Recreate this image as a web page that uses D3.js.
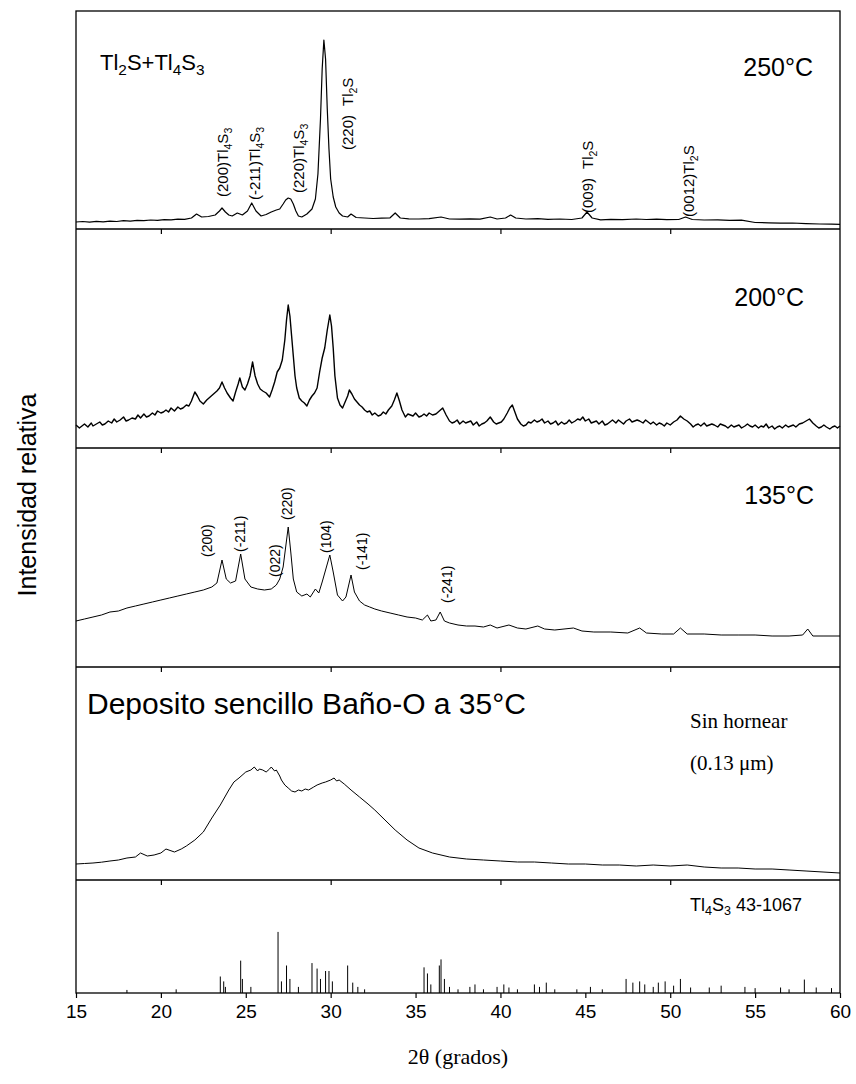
<!DOCTYPE html>
<html>
<head>
<meta charset="utf-8">
<script src="https://cdn.jsdelivr.net/npm/d3@7"></script>
<style>
body { margin: 0; background: #fff; }
text { font-family: "Liberation Sans", Arial, sans-serif; fill: #000; }
.serif { font-family: "Liberation Serif", "Times New Roman", serif; }
.axis path { display: none; }
.axis line { stroke: #000; stroke-width: 1.2; }
</style>
</head>
<body>
<div id="chart"></div>
<script>
// ---- data: [2theta, intensity (a.u.)] ----
var xrd250 = [[15.0,7],[15.4,7.5],[15.8,6.8],[16.2,7.6],[16.6,7.2],[17.0,7.9],[17.4,7.5],[17.8,8.3],[18.2,7.9],[18.6,8.6],[19.0,8.3],[19.4,9.0],[19.8,8.7],[20.2,9.4],[20.6,9.1],[21.0,9.8],[21.4,9.6],[21.8,11],[22.1,15],[22.4,12],[22.8,12.5],[23.2,14],[23.45,18],[23.6,21],[23.8,17],[24.0,14],[24.2,13],[24.5,16],[24.8,14],[25.1,18],[25.35,26],[25.6,18],[25.9,13],[26.2,14.5],[26.5,17],[26.8,19],[27.0,20],[27.2,25],[27.35,29],[27.5,31],[27.65,30],[27.8,25],[27.95,18],[28.1,13],[28.3,12],[28.6,15],[28.9,20],[29.1,30],[29.25,55],[29.4,110],[29.5,160],[29.6,189],[29.7,170],[29.8,120],[29.9,80],[30.0,50],[30.15,32],[30.3,22],[30.5,16],[30.7,13],[31.0,12],[31.2,15],[31.5,11.5],[32.0,11],[32.5,10.5],[33.0,10.8],[33.5,11.2],[33.8,16],[34.1,11],[34.6,10.2],[35.2,10],[35.8,10.4],[36.5,12],[37.0,10],[37.6,9.8],[38.2,10.2],[38.8,9.9],[39.4,12],[39.8,10],[40.3,11],[40.6,14],[40.9,11],[41.5,10],[42.2,10.3],[42.8,9.6],[43.5,10],[44.2,9.5],[44.8,11],[45.1,17],[45.4,11],[45.9,9.2],[46.5,9.6],[47.2,9.3],[48.0,10],[48.6,9.5],[49.2,9.9],[49.8,9.4],[50.5,9.5],[50.9,12],[51.3,9.5],[52.0,9],[52.8,9.2],[53.5,8.6],[54.2,8.8],[55.0,6.5],[55.8,6.2],[56.5,5.8],[57.2,6],[58.0,5.4],[58.8,5],[59.5,4.8],[60.0,4.6]];

var xrd200 = [[15.0,23],[15.2,20],[15.35,22],[15.5,24],[15.7,21],[15.9,25],[16.0,22],[16.2,24],[16.4,26],[16.55,23],[16.7,24],[16.9,27],[17.1,25],[17.25,29],[17.4,26],[17.6,28],[17.8,31],[17.95,27],[18.1,28],[18.3,30],[18.5,29],[18.65,33],[18.8,30],[19.0,34],[19.15,31],[19.3,32],[19.5,35],[19.65,33],[19.8,37],[20.0,35],[20.15,36],[20.3,38],[20.45,36],[20.6,40],[20.8,37],[21.0,41],[21.15,39],[21.3,40],[21.5,43],[21.65,42],[21.8,47],[22.0,56],[22.15,52],[22.3,47],[22.5,44],[22.7,48],[22.9,51],[23.1,54],[23.3,57],[23.45,60],[23.6,66],[23.75,60],[23.9,55],[24.1,50],[24.25,47],[24.4,56],[24.55,64],[24.65,70],[24.8,61],[24.95,58],[25.1,64],[25.25,72],[25.4,86],[25.55,72],[25.7,64],[25.85,59],[26.0,57],[26.2,55],[26.4,51],[26.55,58],[26.7,66],[26.85,76],[27.0,80],[27.15,88],[27.3,108],[27.4,128],[27.5,143],[27.6,132],[27.7,112],[27.8,92],[27.9,72],[28.0,60],[28.15,50],[28.3,47],[28.45,45],[28.6,42],[28.75,48],[28.9,52],[29.05,55],[29.2,60],[29.35,76],[29.5,90],[29.65,100],[29.8,118],[29.95,133],[30.05,122],[30.15,100],[30.25,72],[30.4,50],[30.55,43],[30.7,40],[30.85,46],[31.0,52],[31.1,58],[31.25,54],[31.4,49],[31.55,46],[31.7,43],[31.85,41],[32.0,38],[32.15,36],[32.3,37],[32.45,33],[32.6,35],[32.8,32],[32.95,33],[33.1,36],[33.25,34],[33.4,38],[33.6,42],[33.75,48],[33.9,55],[34.05,47],[34.2,38],[34.4,31],[34.55,34],[34.7,33],[34.85,32],[35.0,35],[35.2,31],[35.35,32],[35.5,34],[35.65,32],[35.8,35],[36.0,33],[36.2,34],[36.4,37],[36.6,40],[36.8,33],[37.0,27],[37.15,25],[37.3,26],[37.45,28],[37.6,24],[37.8,27],[37.95,25],[38.1,26],[38.25,27],[38.4,23],[38.6,26],[38.75,22],[38.9,24],[39.05,25],[39.2,27],[39.4,31],[39.6,26],[39.75,24],[39.9,25],[40.05,26],[40.2,29],[40.4,35],[40.55,40],[40.7,43],[40.85,36],[41.0,29],[41.2,24],[41.35,22],[41.5,23],[41.65,26],[41.8,25],[42.0,28],[42.15,26],[42.3,27],[42.45,29],[42.6,25],[42.8,27],[42.95,24],[43.1,25],[43.25,27],[43.4,23],[43.6,26],[43.75,24],[43.9,25],[44.05,28],[44.2,25],[44.4,27],[44.55,29],[44.7,28],[44.85,31],[45.0,27],[45.2,29],[45.35,25],[45.5,26],[45.65,27],[45.8,24],[46.0,27],[46.15,23],[46.3,24],[46.45,26],[46.6,28],[46.8,25],[46.95,28],[47.1,26],[47.25,24],[47.4,27],[47.6,29],[47.75,26],[47.9,27],[48.05,28],[48.2,27],[48.4,25],[48.55,28],[48.7,26],[48.85,24],[49.0,26],[49.2,23],[49.35,25],[49.5,24],[49.65,22],[49.8,25],[50.0,23],[50.2,26],[50.4,28],[50.6,32],[50.8,29],[51.0,27],[51.2,24],[51.35,21],[51.5,23],[51.65,24],[51.8,22],[52.0,25],[52.15,22],[52.3,23],[52.45,24],[52.6,23],[52.8,21],[52.95,24],[53.1,23],[53.25,22],[53.4,20],[53.6,23],[53.75,21],[53.9,22],[54.05,23],[54.2,20],[54.4,22],[54.55,24],[54.7,22],[54.85,21],[55.0,23],[55.2,20],[55.35,22],[55.5,21],[55.65,24],[55.8,20],[56.0,22],[56.15,19],[56.3,21],[56.45,22],[56.6,20],[56.8,23],[56.95,21],[57.1,22],[57.25,23],[57.4,21],[57.6,24],[57.8,25],[58.0,27],[58.2,29],[58.4,25],[58.6,22],[58.75,20],[58.9,21],[59.05,23],[59.2,21],[59.4,19],[59.55,21],[59.7,22],[59.85,20],[60.0,22]];

var xrd135 = [[15.0,46],[15.5,48],[16.0,50],[16.5,52],[17.0,55],[17.5,56],[18.0,59],[18.5,61],[19.0,63],[19.5,65],[20.0,67],[20.5,69],[21.0,71],[21.5,73],[22.0,75],[22.5,77],[23.0,80],[23.3,84],[23.6,107],[23.85,88],[24.1,84],[24.4,86],[24.7,113],[24.95,88],[25.3,80],[25.7,78],[26.1,77],[26.5,78],[26.8,82],[27.0,88],[27.2,100],[27.35,120],[27.5,140],[27.65,115],[27.8,88],[28.0,75],[28.3,71],[28.6,73],[28.8,70],[29.1,78],[29.3,74],[29.5,85],[29.75,100],[29.95,112],[30.15,95],[30.4,72],[30.7,66],[30.9,70],[31.2,92],[31.4,75],[31.7,66],[32.0,62],[32.3,60],[32.6,58],[33.0,56],[33.5,54],[34.0,52],[34.5,50],[35.0,49],[35.4,47],[35.7,52],[35.9,46],[36.2,47],[36.45,55],[36.7,46],[37.0,44],[37.5,42],[38.0,41],[38.5,41],[39.0,40],[39.4,42],[39.8,39],[40.5,42],[41.0,39],[41.5,38],[42.2,41],[42.6,38],[43.2,37],[44.3,39],[44.8,36],[45.5,35],[46.5,35],[47.5,34],[48.2,39],[48.6,34],[49.5,33],[50.2,33],[50.6,39],[51.0,33],[52.0,33],[53.0,32],[54.0,32],[55.0,32],[56.0,31],[57.0,31],[57.8,32],[58.1,38],[58.4,31],[59.0,31],[60.0,31]];

var xrdDep = [[15.0,16],[15.5,16.5],[16.0,17],[16.5,17.8],[17.0,19],[17.5,20],[18.0,22],[18.5,23],[18.8,27],[19.2,24],[19.6,25],[20.0,27],[20.3,31],[20.8,28],[21.2,31],[21.5,34],[22.0,40],[22.5,48],[23.0,62],[23.5,75],[24.0,90],[24.3,98],[24.6,102],[25.0,108],[25.3,110],[25.5,113],[25.7,109],[25.8,111],[26.0,110],[26.2,108],[26.4,111],[26.5,113],[26.7,109],[26.8,110],[27.0,104],[27.1,100],[27.3,95],[27.5,92],[27.7,89],[27.9,88],[28.1,90],[28.3,89],[28.5,91],[28.7,90],[29.0,93],[29.2,95],[29.5,97],[29.7,98],[30.0,100],[30.2,102],[30.35,99],[30.5,100],[30.8,96],[31.2,90],[31.7,83],[32.2,76],[32.6,70],[33.2,60],[33.8,50],[34.5,40],[35.2,32],[36.0,27],[37.0,23],[38.0,21],[39.0,20],[40.0,19],[41.0,18],[42.0,18],[43.0,17],[44.0,16],[45.0,16],[46.0,15],[47.0,15],[48.0,14],[49.0,15],[50.0,14],[51.0,15],[52.0,13],[53.0,12],[54.0,12],[55.0,11],[56.0,11],[57.0,10],[58.0,9],[59.0,8],[60.0,7]];

// Tl4S3 PDF 43-1067 reference lines: [2theta, relative intensity]
var pdfTl4S3 = [[18.0,5],[20.9,6],[23.5,27],[23.7,19],[23.8,10],[24.7,53],[24.8,23],[25.3,10],[26.9,100],[27.1,19],[27.4,45],[27.6,23],[28.1,10],[28.9,49],[29.2,40],[29.4,23],[29.7,36],[29.9,36],[30.1,19],[31.0,45],[31.3,17],[31.6,10],[32.0,6],[35.5,42],[35.7,32],[35.9,14],[36.4,45],[36.5,55],[36.7,23],[37.0,10],[37.5,6],[38.2,10],[38.5,14],[39.0,6],[39.8,10],[40.2,14],[40.5,9],[41.0,6],[42.0,14],[42.3,10],[42.7,17],[43.2,6],[44.5,6],[45.3,10],[46.0,6],[47.4,23],[47.8,17],[48.2,19],[48.5,14],[49.0,10],[49.3,17],[49.7,19],[50.2,12],[50.6,23],[51.2,9],[52.3,9],[53.0,12],[54.4,10],[55.0,8],[56.5,9],[57.0,6],[57.9,22],[58.6,9],[59.5,8]];

// peak labels: [2theta of label, intensity at label foot, hkl, phase]
var labels250 = [[23.6,32,"(200)","Tl4S3"],[25.5,29,"(-211)","Tl4S3"],[28.05,36,"(220)","Tl4S3"],[30.95,79,"(220)","Tl2S"],[45.1,16,"(009)","Tl2S"],[51.05,12,"(0012)","Tl2S"]];
var labels135 = [[22.72,110,"(200)"],[24.66,115,"(-211)"],[26.72,90,"(022)"],[27.43,147,"(220)"],[29.72,114,"(104)"],[31.84,97,"(-141)"],[36.85,64,"(-241)"]];

var xTicks = [15,20,25,30,35,40,45,50,55,60];

// ---- layout ----
var W = 856, H = 1084;
var left = 76, right = 840;

var panels = [
    { data: xrd250, top: 11,  bottom: 229, ymax: 218, sw: 1.2 },
    { data: xrd200, top: 229, bottom: 448, ymax: 219, sw: 1.4 },
    { data: xrd135, top: 448, bottom: 667, ymax: 219, sw: 1.0 },
    { data: xrdDep, top: 667, bottom: 880, ymax: 213, sw: 1.0 },
    { data: null,   top: 880, bottom: 993, ymax: 185, sw: 1.0 }
];

var svg = d3.select("#chart").append("svg")
    .attr("width", W)
    .attr("height", H);

var x = d3.scaleLinear().domain([15, 60]).range([left, right]);

panels.forEach(function(p){
    p.y = d3.scaleLinear().domain([0, p.ymax]).range([p.bottom, p.top]);
});

// curves
panels.slice(0, 4).forEach(function(p){
    var line = d3.line()
        .x(function(d){ return x(d[0]); })
        .y(function(d){ return p.y(d[1]); });
    svg.append("path")
        .datum(p.data)
        .attr("fill", "none")
        .attr("stroke", "#000")
        .attr("stroke-width", p.sw)
        .attr("stroke-linejoin", "round")
        .attr("d", line);
});

// reference sticks
var pStick = panels[4];
svg.selectAll(".stick")
    .data(pdfTl4S3)
    .enter().append("line")
    .attr("class", "stick")
    .attr("x1", function(d){ return x(d[0]); })
    .attr("x2", function(d){ return x(d[0]); })
    .attr("y1", pStick.y(0))
    .attr("y2", function(d){ return pStick.y(d[1]); })
    .attr("stroke", "#000")
    .attr("stroke-width", 1);

// frame and panel separators
svg.append("rect")
    .attr("x", left).attr("y", panels[0].top)
    .attr("width", right - left).attr("height", panels[4].bottom - panels[0].top)
    .attr("fill", "none").attr("stroke", "#000").attr("stroke-width", 1.3);

panels.slice(0, 4).forEach(function(p){
    svg.append("line")
        .attr("x1", left).attr("x2", right)
        .attr("y1", p.bottom).attr("y2", p.bottom)
        .attr("stroke", "#000").attr("stroke-width", 1.3);
    svg.append("g")
        .attr("class", "axis")
        .attr("transform", "translate(0," + p.bottom + ")")
        .call(d3.axisBottom(x).tickValues([20, 30, 40, 50]).tickSize(5).tickFormat(""));
});

// bottom axis
var xAxis = svg.append("g")
    .attr("class", "axis")
    .attr("transform", "translate(0," + panels[4].bottom + ")")
    .call(d3.axisBottom(x).tickValues(xTicks).tickSize(5).tickPadding(7).tickFormat(d3.format("d")));
xAxis.selectAll("text")
    .style("font-size", "19px")
    .style("font-family", "Liberation Sans, Arial, sans-serif");

// axis titles
svg.append("text")
    .attr("class", "serif")
    .attr("x", 458).attr("y", 1064)
    .attr("text-anchor", "middle")
    .style("font-size", "22px")
    .text("2\u03b8 (grados)");

svg.append("text")
    .attr("transform", "translate(36,495) rotate(-90)")
    .attr("text-anchor", "middle")
    .style("font-size", "25px")
    .text("Intensidad relativa");

// chemical formula with subscripts, e.g. "Tl4S3"; returns true if it ends lowered
function formula(sel, s, shift, firstDx){
    var parts = s.match(/[^\d]+|\d+/g);
    var down = false;
    parts.forEach(function(t, i){
        var ts = sel.append("tspan").text(t);
        if (i === 0 && firstDx) ts.attr("dx", firstDx);
        if (/\d/.test(t)) {
            ts.attr("dy", shift).style("font-size", "70%");
            down = true;
        } else if (down) {
            ts.attr("dy", -shift);
            down = false;
        }
    });
    return down;
}

labels250.forEach(function(d){
    var t = svg.append("text")
        .attr("transform", "translate(" + (x(d[0]) + 6) + "," + panels[0].y(d[1]) + ") rotate(-90)")
        .style("font-size", "15px");
    t.append("tspan").text(d[2]);
    var gap = (d[3] === "Tl2S" && d[2] !== "(0012)") ? 9 : 0;
    formula(t, d[3], 4, gap);
});

labels135.forEach(function(d){
    svg.append("text")
        .attr("transform", "translate(" + (x(d[0]) + 5) + "," + panels[2].y(d[1]) + ") rotate(-90)")
        .style("font-size", "14px")
        .text(d[2]);
});

// panel captions
var cap1 = svg.append("text").attr("x", 100).attr("y", 70).style("font-size", "22px");
formula(cap1, "Tl2S+Tl4S3", 5);

svg.append("text").attr("x", 813).attr("y", 76).attr("text-anchor", "end").style("font-size", "25px").text("250\u00b0C");
svg.append("text").attr("x", 804).attr("y", 306).attr("text-anchor", "end").style("font-size", "25px").text("200\u00b0C");
svg.append("text").attr("x", 814).attr("y", 504).attr("text-anchor", "end").style("font-size", "25px").text("135\u00b0C");

svg.append("text").attr("x", 87).attr("y", 714).style("font-size", "30px").text("Deposito sencillo Ba\u00f1o-O a 35\u00b0C");
svg.append("text").attr("class", "serif").attr("x", 690).attr("y", 728).style("font-size", "21px").text("Sin hornear");
svg.append("text").attr("class", "serif").attr("x", 690).attr("y", 770).style("font-size", "21px").text("(0.13 \u03bcm)");

var cap5 = svg.append("text").attr("x", 690).attr("y", 911).style("font-size", "18px");
var low = formula(cap5, "Tl4S3", 4);
cap5.append("tspan").attr("dy", low ? -4 : 0).text(" 43-1067");
</script>
</body>
</html>
